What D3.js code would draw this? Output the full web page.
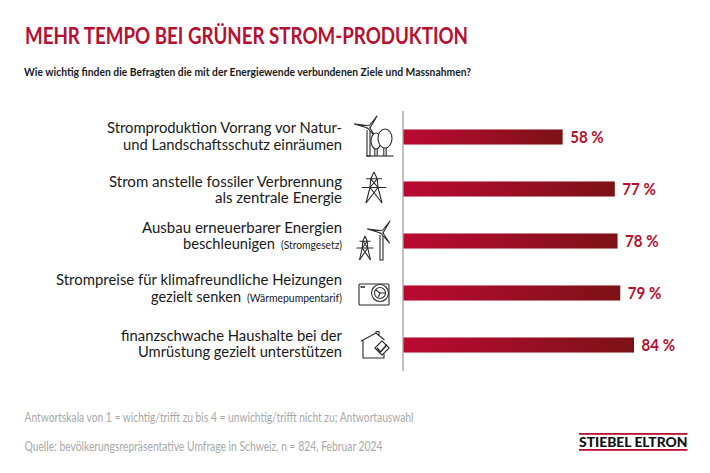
<!DOCTYPE html>
<html>
<head>
<meta charset="utf-8">
<script src="https://cdn.jsdelivr.net/npm/d3@7"></script>
<style>
  body { margin: 0; background: #fff; }
  text { font-family: Lato, "Liberation Sans", sans-serif; }
</style>
</head>
<body>
<div id="chart"></div>
<script>
let categories = ['wind', 'mast', 'ausbau', 'heizung', 'haushalt']
let values = [58, 77, 78, 79, 84]
let labelTop = [
  'Stromproduktion Vorrang vor Natur-',
  'Strom anstelle fossiler Verbrennung',
  'Ausbau erneuerbarer Energien',
  'Strompreise für klimafreundliche Heizungen',
  'finanzschwache Haushalte bei der'
]
let labelBottom = [
  'und Landschaftsschutz einräumen',
  'als zentrale Energie',
  'beschleunigen',
  'gezielt senken',
  'Umrüstung gezielt unterstützen'
]
let labelNote = ['', '', '(Stromgesetz)', '(Wärmepumpentarif)', '']

// layout of the label column, fitted by eye to the reference
let topWidth = [235, 233, 200, 286, 221]
let bottomWidth = [219, 127, 92, 90, 204]
let noteWidth = [0, 0, 61, 95, 0]
let rowShift = [0, 1.5, -4.5, -4, -0.5]

let svg = d3.select('#chart')
  .append('svg')
    .attr('width', 710)
    .attr('height', 473)
    .style('display', 'block')

let grad = svg.append('defs').append('linearGradient').attr('id', 'barFill')
grad.append('stop').attr('offset', '0%').attr('stop-color', '#bb0a33')
grad.append('stop').attr('offset', '100%').attr('stop-color', '#7c1216')

let x = d3.scaleLinear().domain([0, 84]).range([403.5, 634])
let y = d3.scaleBand().domain(categories).range([111, 371]).paddingInner(0.71).paddingOuter(0.355)
let mid = (c) => y(c) + y.bandwidth() / 2

// header
svg.append('text').attr('x', 25).attr('y', 44)
  .attr('font-size', 22.5).attr('font-weight', 700).attr('fill', '#b5102f')
  .attr('textLength', 443).attr('lengthAdjust', 'spacingAndGlyphs')
  .text('MEHR TEMPO BEI GRÜNER STROM-PRODUKTION')
svg.append('text').attr('x', 24).attr('y', 76)
  .attr('font-size', 12).attr('font-weight', 700).attr('fill', '#1a1a1a')
  .attr('textLength', 447).attr('lengthAdjust', 'spacingAndGlyphs')
  .text('Wie wichtig finden die Befragten die mit der Energiewende verbundenen Ziele und Massnahmen?')

// axis line
svg.append('line')
  .attr('x1', 403).attr('x2', 403)
  .attr('y1', y.range()[0]).attr('y2', y.range()[1])
  .attr('stroke', '#a8a8a8').attr('stroke-width', 1.4)

// bars
svg.selectAll('.bar')
  .data(values)
  .enter()
  .append('rect')
    .attr('class', 'bar')
    .attr('x', x(0))
    .attr('y', (d, i) => y(categories[i]))
    .attr('width', (d) => x(d) - x(0))
    .attr('height', y.bandwidth())
    .attr('fill', 'url(#barFill)')

svg.selectAll('.value')
  .data(values)
  .enter()
  .append('text')
    .attr('class', 'value')
    .attr('x', (d) => x(d) + 7.5)
    .attr('y', (d, i) => mid(categories[i]) + 5.5)
    .attr('font-size', 17)
    .attr('font-weight', 700)
    .attr('fill', '#b5102f')
    .attr('textLength', 33.5)
    .attr('lengthAdjust', 'spacingAndGlyphs')
    .text((d) => d + ' %')

// category labels
svg.selectAll('.line1')
  .data(labelTop)
  .enter()
  .append('text')
    .attr('class', 'line1')
    .attr('x', (d, i) => 342 - topWidth[i])
    .attr('y', (d, i) => mid(categories[i]) - 4 + rowShift[i])
    .attr('font-size', 15.5)
    .attr('fill', '#1a1a1a')
    .attr('textLength', (d, i) => topWidth[i])
    .attr('lengthAdjust', 'spacingAndGlyphs')
    .text((d) => d)

svg.selectAll('.line2')
  .data(labelBottom)
  .enter()
  .append('text')
    .attr('class', 'line2')
    .attr('x', (d, i) => 342 - (noteWidth[i] ? noteWidth[i] + 6 : 0) - bottomWidth[i])
    .attr('y', (d, i) => mid(categories[i]) + 12.7 + rowShift[i])
    .attr('font-size', 15.5)
    .attr('fill', '#1a1a1a')
    .attr('textLength', (d, i) => bottomWidth[i])
    .attr('lengthAdjust', 'spacingAndGlyphs')
    .text((d) => d)

svg.selectAll('.note')
  .data(labelNote.filter((d) => d))
  .enter()
  .append('text')
    .attr('class', 'note')
    .attr('x', (d) => 342 - noteWidth[labelNote.indexOf(d)])
    .attr('y', (d) => {
      let i = labelNote.indexOf(d)
      return mid(categories[i]) + 12.7 + rowShift[i]
    })
    .attr('font-size', 11.5)
    .attr('fill', '#1a1a1a')
    .attr('textLength', (d) => noteWidth[labelNote.indexOf(d)])
    .attr('lengthAdjust', 'spacingAndGlyphs')
    .text((d) => d)

// icons, drawn around the middle of each row
let icon = (c) => svg.append('g')
  .attr('transform', `translate(0,${mid(c)})`)
  .attr('fill', 'none')
  .attr('stroke', '#2b2b2b')
  .attr('stroke-width', 1.1)
  .attr('stroke-linejoin', 'round')

let turbine = (g, cx, hub, base) => {
  g.append('path').attr('d', `M${cx - 1.5},${hub + 3}L${cx - 1.5},${base}H${cx + 1.5}V${hub + 3}`)
  g.append('circle').attr('cx', cx).attr('cy', hub).attr('r', 1.8).attr('fill', '#fff')
  g.append('path').attr('d', `M${cx - 1},${hub - 1.5}L${cx - 14},${hub - 3}L${cx - 1},${hub + 1}`).attr('fill', '#fff')
  g.append('path').attr('d', `M${cx + 1},${hub - 1.5}L${cx + 8.5},${hub - 11}L${cx + 1.5},${hub + 1}`).attr('fill', '#fff')
  g.append('path').attr('d', `M${cx + 1.5},${hub + 1}L${cx + 8},${hub + 11}L${cx},${hub + 2}`).attr('fill', '#fff')
}

let pylon = (g, cx, top, h, w) => {
  let p1 = top + h * 0.22
  let p2 = top + h * 0.5
  let bot = top + h
  g.append('path').attr('d', `M${cx},${top}L${cx - w * 0.4},${p1}L${cx - w * 0.5},${p2}L${cx - w},${bot}M${cx},${top}L${cx + w * 0.4},${p1}L${cx + w * 0.5},${p2}L${cx + w},${bot}`)
  g.append('path').attr('d', `M${cx - w},${p1}H${cx + w}M${cx - w * 1.55},${p2}H${cx + w * 1.55}M${cx - w * 0.5},${p2}L${cx + w},${bot}M${cx + w * 0.5},${p2}L${cx - w},${bot}M${cx - w * 0.4},${p1}L${cx + w * 0.5},${p2}M${cx + w * 0.4},${p1}L${cx - w * 0.5},${p2}`)
}

let tree = (g, cx, top, bot, rx, base) => {
  g.append('ellipse').attr('cx', cx).attr('cy', (top + bot) / 2)
    .attr('rx', rx).attr('ry', (bot - top) / 2).attr('fill', '#fff')
  g.append('path').attr('d', `M${cx - 1.2},${bot}V${base}M${cx + 1.2},${bot}V${base}`)
}

let wind = icon('wind')
turbine(wind, 368.5, -10, 19)
wind.append('path').attr('d', 'M366,19H393.5')
tree(wind, 376, -4, 12, 5, 19)
tree(wind, 385, -8, 11, 7, 19)

pylon(icon('mast'), 374, -17, 31, 8)

let ausbau = icon('ausbau')
turbine(ausbau, 381.5, -9, 19)
pylon(ausbau, 365, -5, 24, 5.5)

let heizung = icon('heizung')
heizung.append('rect').attr('x', 359).attr('y', -9).attr('width', 30).attr('height', 21).attr('rx', 1)
heizung.append('circle').attr('cx', 380).attr('cy', 0).attr('r', 8.5)
heizung.append('circle').attr('cx', 380).attr('cy', 0).attr('r', 5.5)
heizung.append('path').attr('d', 'M380,0L376,-3M380,0L385,0M380,0L378.5,4')
heizung.append('path').attr('d', 'M360.5,-6H365').attr('stroke-width', 1.6)

let haushalt = icon('haushalt')
haushalt.append('path').attr('d', 'M384,9V13H363V-5L376,-12L384.5,-5M363,-5L361,-4M376,-12V-13.5H379V-10')
haushalt.append('rect').attr('x', 377).attr('y', -2).attr('width', 10).attr('height', 10)
  .attr('fill', '#fff').attr('transform', 'rotate(-45 382 3)')
haushalt.append('path').attr('d', 'M377,3L380.5,7L387,-0.5').attr('stroke-width', 1.6)

// footer
svg.append('text').attr('x', 24.5).attr('y', 422)
  .attr('font-size', 12.5).attr('fill', '#a9a9a9')
  .attr('textLength', 389).attr('lengthAdjust', 'spacingAndGlyphs')
  .text('Antwortskala von 1 = wichtig/trifft zu bis 4 = unwichtig/trifft nicht zu; Antwortauswahl')
svg.append('text').attr('x', 24.5).attr('y', 451)
  .attr('font-size', 12.5).attr('fill', '#a9a9a9')
  .attr('textLength', 358).attr('lengthAdjust', 'spacingAndGlyphs')
  .text('Quelle: bevölkerungsrepräsentative Umfrage in Schweiz, n = 824, Februar 2024')

// logo
let logo = svg.append('g')
logo.append('rect').attr('x', 579).attr('y', 433).attr('width', 108.5).attr('height', 1.8).attr('fill', '#b5102f')
logo.append('rect').attr('x', 579).attr('y', 449).attr('width', 108.5).attr('height', 1.8).attr('fill', '#b5102f')
logo.append('text').attr('x', 579).attr('y', 447)
  .attr('font-size', 13).attr('font-weight', 900).attr('fill', '#111')
  .attr('textLength', 108.5).attr('lengthAdjust', 'spacingAndGlyphs')
  .text('STIEBEL ELTRON')
</script>
</body>
</html>
